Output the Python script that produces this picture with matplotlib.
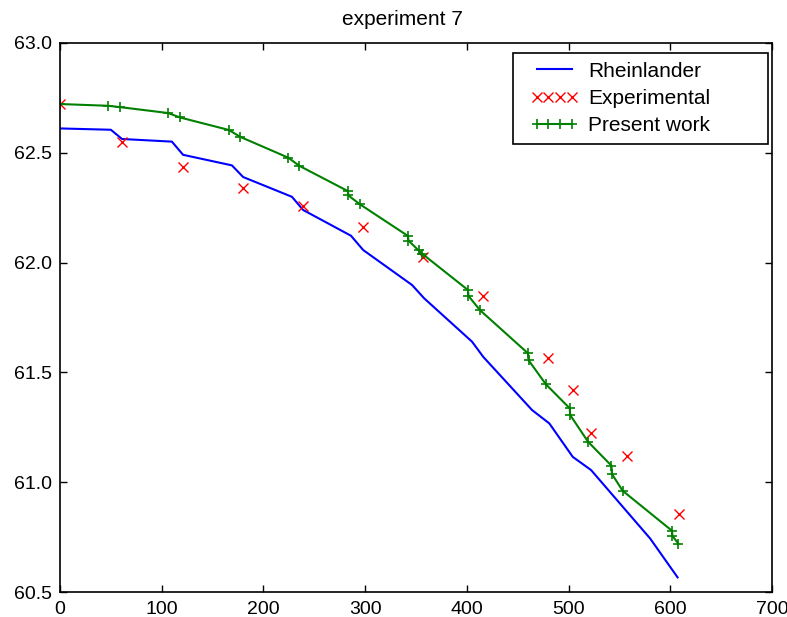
import matplotlib
matplotlib.use('Agg')
import matplotlib.pyplot as plt
from matplotlib.ticker import FormatStrFormatter
from matplotlib.legend_handler import HandlerLine2D

# Rheinlander model curve
rhein_x = [0, 50, 61, 110, 121, 169, 180, 228, 239, 286, 298, 346, 358,
           405, 416, 464, 481, 504, 522, 580, 607]
rhein_y = [62.61, 62.604, 62.562, 62.55, 62.49, 62.442, 62.389, 62.299, 62.239,
           62.122, 62.057, 61.898, 61.837, 61.64, 61.571, 61.329, 61.268,
           61.116, 61.056, 60.745, 60.568]

# measured points
exp_x = [0, 61, 121, 180, 239, 298, 357, 416, 480, 504, 522, 557, 608]
exp_y = [62.72, 62.55, 62.433, 62.34, 62.258, 62.16, 62.026, 61.849, 61.567,
         61.42, 61.226, 61.12, 60.856]

# present work
pw_x = [0, 47.5, 59, 106.4, 117.9, 166, 177, 224.4, 235.2, 283, 283.5, 294.8,
        342, 342.5, 352.5, 356, 401, 401.5, 412.7, 460, 460.5, 477.6, 501,
        501.5, 519, 542, 542.5, 553, 601.5, 602, 607.7]
pw_y = [62.721, 62.713, 62.707, 62.68, 62.66, 62.603, 62.572, 62.477, 62.44,
        62.325, 62.305, 62.265, 62.121, 62.10, 62.055, 62.04, 61.875, 61.848,
        61.784, 61.587, 61.556, 61.446, 61.337, 61.306, 61.185, 61.076,
        61.038, 60.962, 60.78, 60.756, 60.722]

plt.rcParams['font.family'] = ['Liberation Sans', 'DejaVu Sans']

fig = plt.figure(figsize=(7.87, 6.17), dpi=100)
ax = fig.add_axes([0.0762, 0.04, 0.905, 0.8908])

l1, = ax.plot(rhein_x, rhein_y, color='blue', lw=1.5, label='Rheinlander')
l2, = ax.plot(exp_x, exp_y, 'x', color='red', ms=7, mew=1.0, label='Experimental')
l3, = ax.plot(pw_x, pw_y, '-+', color='green', lw=1.5, ms=7.5, mew=1.2,
              label='Present work')

ax.set_xlim(0, 700)
ax.set_ylim(60.5, 63.0)
ax.set_xticks(range(0, 701, 100))
ax.set_yticks([60.5, 61.0, 61.5, 62.0, 62.5, 63.0])
ax.yaxis.set_major_formatter(FormatStrFormatter('%.1f'))
ax.tick_params(direction='in', top=True, right=True, length=5, width=1,
               labelsize=14, pad=6)
for s in ax.spines.values():
    s.set_linewidth(1.2)

ax.set_title('experiment 7', fontsize=15, x=0.481, pad=13)

# legend box stretched to the old-style width
hmap = {l: HandlerLine2D(marker_pad=0.0, xpad=0.75) for l in (l1, l2, l3)}
leg = ax.legend(handler_map=hmap, loc='upper left', mode='expand',
                bbox_to_anchor=(0.6358, 0.5, 0.3576, 0.4807), borderaxespad=0,
                numpoints=4, fontsize=15, fancybox=False, framealpha=1,
                edgecolor='black', handlelength=2.43, handletextpad=0.77,
                labelspacing=0.4, borderpad=0.4)
leg.get_frame().set_linewidth(1.2)

fig.savefig('out.png', dpi=100)
